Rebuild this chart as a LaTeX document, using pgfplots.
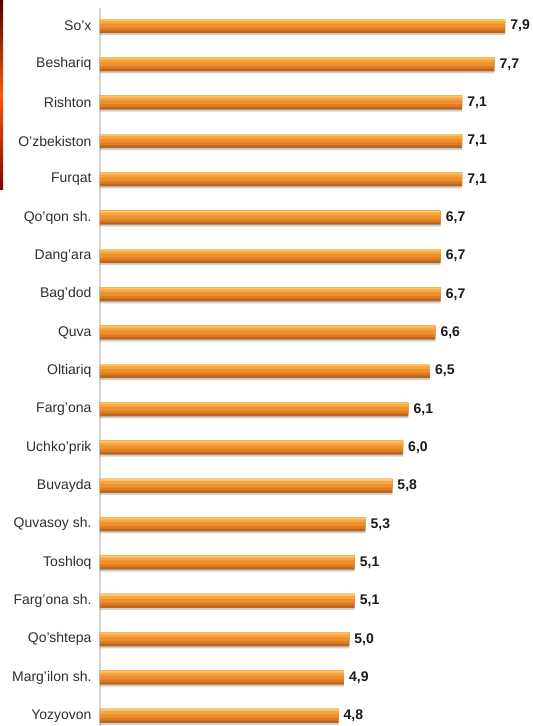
\documentclass[border=0pt]{standalone}
\usepackage{pgfplots}
\usepackage{pgfplotstable}
\pgfplotsset{compat=1.18}
\usepackage{fontspec}
\setmainfont{Liberation Sans}
\definecolor{b1}{HTML}{BD6620}
\definecolor{b2}{HTML}{DA7D26}
\definecolor{b3}{HTML}{F0902C}
\definecolor{b4}{HTML}{F6A640}
\definecolor{b5}{HTML}{FAC468}
\definecolor{labgray}{HTML}{2E2E2E}
\definecolor{axgray}{HTML}{D4D4D4}
\pgfplotstableread{
v y
4.8 0
4.9 1
5.0 2
5.1 3
5.1 4
5.3 5
5.8 6
6.0 7
6.1 8
6.5 9
6.6 10
6.7 11
6.7 12
6.7 13
7.1 14
7.1 15
7.1 16
7.7 17
7.9 18
}\data
\begin{document}
\begin{tikzpicture}[x=1pt,y=1pt]
\begin{axis}[
  at={(100pt,0pt)}, anchor=south west,
  scale only axis, width=433pt, height=718pt,
  xmin=0.366, xmax=8.416,
  ymin=-0.261, ymax=18.47,
  xbar,
  hide x axis,
  axis y line*=left,
  y axis line style={draw=axgray, line width=1.4pt},
  ytick={0,...,18},
  yticklabels={Yozyovon, Marg'ilon sh., Qo'shtepa, Farg'ona sh., Toshloq, Quvasoy sh., Buvayda, Uchko'prik, Farg'ona, Oltiariq, Quva, Bag'dod, Dang'ara, Qo'qon sh., Furqat, O'zbekiston, Rishton, Beshariq, So'x},
  ytick style={draw=none},
  major tick length=0pt,
  yticklabel style={font=\fontsize{14}{14}\selectfont, text=labgray, xshift=-5pt},
]
\addplot[draw=none, fill=black, fill opacity=0.18, bar width=14pt, bar shift=-2pt] table[x=v,y=y]{\data};
\addplot[draw=none, fill=b1, bar width=14pt, bar shift=0pt] table[x=v,y=y]{\data};
\addplot[draw=none, fill=b2, bar width=11.4pt, bar shift=1.3pt] table[x=v,y=y]{\data};
\addplot[draw=none, fill=b3, bar width=8.6pt, bar shift=2.7pt] table[x=v,y=y]{\data};
\addplot[draw=none, fill=b4, bar width=4.8pt, bar shift=4.6pt] table[x=v,y=y]{\data};
\addplot[draw=none, fill=b5, bar width=2pt, bar shift=6pt,
  point meta=x,
  nodes near coords={\pgfmathprintnumber[fixed, fixed zerofill, precision=1, use comma, assume math mode=true]{\pgfplotspointmeta}},
  every node near coord/.append style={font=\bfseries\fontsize{14}{14}\selectfont, text=black!90, anchor=west, inner sep=0pt, xshift=5pt, yshift=-6pt},
  ] table[x=v,y=y]{\data};
\end{axis}
\shade[top color=black!70!red, bottom color=red!50!black, middle color=orange!70!red] (0,536) rectangle (3,726);
\pgfresetboundingbox
\path[use as bounding box] (0,0) rectangle (533,726);
\end{tikzpicture}
\end{document}
